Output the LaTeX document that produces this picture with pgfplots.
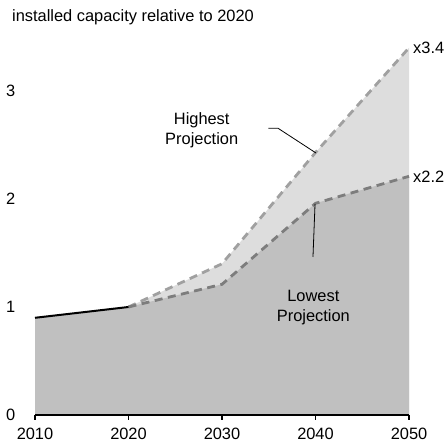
\documentclass[border=0pt]{standalone}
\usepackage{pgfplots}
\pgfplotsset{compat=1.18}
\usepackage{fontspec}
\setmainfont{Liberation Sans}
\definecolor{lowfill}{RGB}{192,192,192}
\definecolor{highfill}{RGB}{221,221,221}
\definecolor{highline}{RGB}{160,160,160}
\definecolor{lowline}{RGB}{125,125,125}
\begin{document}
\fontsize{16.4}{20.5}\selectfont
\begin{tikzpicture}
\path[use as bounding box] (0,0) rectangle (447pt,443pt);
\node[anchor=base west, inner sep=0pt] at (12pt,421pt) {installed capacity relative to 2020};
\begin{axis}[
  at={(35pt,28pt)}, anchor=south west,
  scale only axis, width=374pt, height=383.4pt,
  xmin=2010, xmax=2050, ymin=0, ymax=3.55,
  enlargelimits=false, clip=false,
  axis line style={draw=none},
  xtick pos=bottom, ytick pos=left,
  xtick={2010,2020,2030,2040,2050},
  ytick={0,1,2,3},
  xticklabels={2010,2020,2030,2040,2050},
  yticklabels={0,1,2,3},
  tick align=outside,
  major tick length=5pt,
  x tick style={line width=1.5pt, black},
  y tick style={draw=none},
  xticklabel style={inner sep=0pt, anchor=north, yshift=-8pt, font=\fontsize{16.4}{20}\selectfont},
  yticklabel style={inner sep=0pt, anchor=east, xshift=-14.5pt, font=\fontsize{16.4}{20}\selectfont},
]
% filled areas
\addplot[fill=highfill, draw=none] coordinates {(2020,1.0) (2030,1.40) (2040,2.43) (2050,3.40)} \closedcycle;
\addplot[fill=lowfill, draw=none] coordinates {(2010,0.90) (2020,1.0) (2030,1.21) (2040,1.96) (2050,2.21)} \closedcycle;
% lines
\addplot[highline, line width=2.8pt, dash pattern=on 8pt off 5.5pt] coordinates {(2020,1.0) (2030,1.40) (2040,2.43) (2050,3.40)};
\addplot[lowline, line width=2.8pt, dash pattern=on 8pt off 5.5pt] coordinates {(2020,1.0) (2030,1.21) (2040,1.96) (2050,2.21)};
\addplot[black, line width=2pt] coordinates {(2010,0.90) (2020,1.0)};
% x axis baseline
\draw[black, line width=1.6pt] (axis cs:2010,0) -- (axis cs:2050,0);
% annotations
\node[align=center, inner sep=0pt, font=\fontsize{16.4}{20.5}\selectfont] at (axis cs:2027.83,2.636) {Highest\\Projection};
\node[align=center, inner sep=0pt, font=\fontsize{16.4}{20.5}\selectfont] at (axis cs:2039.77,0.997) {Lowest\\Projection};
\draw[black, line width=0.8pt] (axis cs:2034.95,2.655) -- (axis cs:2035.99,2.655) -- (axis cs:2040.05,2.426);
\draw[black, line width=0.8pt] (axis cs:2039.95,1.954) -- (axis cs:2039.73,1.463);
\node[anchor=west, inner sep=0pt, xshift=4pt] at (axis cs:2050,3.40) {x3.4};
\node[anchor=west, inner sep=0pt, xshift=4pt] at (axis cs:2050,2.21) {x2.2};
\end{axis}
\end{tikzpicture}
\end{document}
